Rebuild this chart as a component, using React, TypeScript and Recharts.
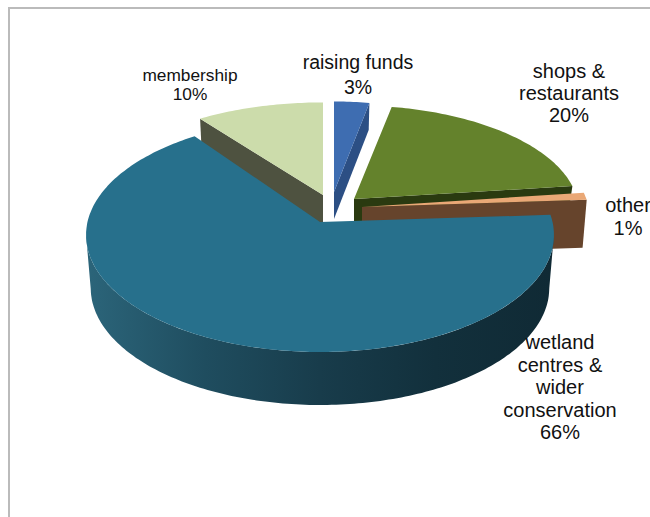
import React from "react";
import { PieChart, Pie } from "recharts";

const names = ["membership", "raising funds", "shops & restaurants", "other", "wetland centres & wider conservation"];
const shares = [10, 3, 20, 1, 66];

const data = names.map((name, i) => ({ name, value: shares[i] }));

const labelLines: Record<string, string[]> = {
  membership: ["membership"],
  "raising funds": ["raising funds"],
  "shops & restaurants": ["shops &", "restaurants"],
  other: ["other"],
  "wetland centres & wider conservation": ["wetland", "centres &", "wider", "conservation"],
};

// 3d look of each slice: shift from the pie centre, squash, wall depth and colours
const looks: Record<string, any> = {
  membership: { dx: 3, dy: -27, sx: 0.98, sy: 0.89, depth: 45, top: "#ccdcab", wall: "#4e5240", cut: "start" },
  "raising funds": { dx: 14, dy: -30, sx: 0.9, sy: 0.87, depth: 27, top: "#3e6db1", wall: "#2c4f84", cut: "end" },
  "shops & restaurants": { dx: 34, dy: -23, sx: 0.96, sy: 0.9, depth: 27, top: "#64822c", wall: "#2a3a10", cut: "end" },
  other: { dx: 42, dy: -15, sx: 0.975, sy: 1, depth: 48, top: "#eaa876", wall: "#66442c", cut: "end" },
  "wetland centres & wider conservation": { dx: 0, dy: 0, sx: 1, sy: 1, depth: 53, top: "#27708c", wall: "url(#sideShade)", cut: "arc" },
};

const labelSpots: Record<string, any> = {
  membership: { x: 190, y: 81, size: 17.3, lead: 19 },
  "raising funds": { x: 358, y: 69, size: 19.5, lead: 25 },
  "shops & restaurants": { x: 569, y: 78, size: 20, lead: 22 },
  other: { x: 628, y: 212, size: 20, lead: 23 },
  "wetland centres & wider conservation": { x: 560, y: 349, size: 20, lead: 22.5 },
};

const PERSPECTIVE = 0.111;
const SQUASH = 0.497;
// angle where the tilted rim is widest, the side wall stops there
const WIDEST = (Math.acos(-PERSPECTIVE) * 180) / Math.PI;

function project(deg: number, cx: number, cy: number, rx: number, ry: number) {
  const t = (deg * Math.PI) / 180;
  const u = Math.sin(t);
  const v = Math.cos(t);
  const w = 1 + PERSPECTIVE * v;
  return { x: cx + (rx * u) / w, y: cy - (ry * v) / w };
}

function toPath(pts: { x: number; y: number }[]) {
  return pts.map((p, i) => `${i ? "L" : "M"}${p.x.toFixed(1)} ${p.y.toFixed(1)}`).join(" ") + " Z";
}

function Slice3D(props: any) {
  const { cx, cy, outerRadius, startAngle, endAngle, name } = props;
  const look = looks[name];
  const ax = cx + look.dx;
  const ay = cy + look.dy;
  const rx = outerRadius * look.sx;
  const ry = outerRadius * SQUASH * look.sy;
  // recharts angles run counter-clockwise from 3 o'clock, here clockwise from 12
  const from = 90 - startAngle;
  const to = 90 - endAngle;

  const rim: { x: number; y: number }[] = [];
  const steps = Math.max(4, Math.ceil(to - from));
  for (let i = 0; i <= steps; i++) {
    rim.push(project(from + ((to - from) * i) / steps, ax, ay, rx, ry));
  }
  const apex = { x: ax, y: ay };

  let wall = "";
  if (look.cut === "arc") {
    const upper: { x: number; y: number }[] = [];
    const lower: { x: number; y: number }[] = [];
    for (let deg = WIDEST; deg <= 360 - WIDEST; deg += 1) {
      upper.push(project(deg, ax, ay, rx, ry));
      lower.unshift(project(deg, ax, ay + look.depth, rx * 0.98, ry));
    }
    wall = toPath([...upper, ...lower]);
  } else {
    const edge = look.cut === "start" ? rim[0] : rim[rim.length - 1];
    wall = toPath([
      apex,
      edge,
      { x: edge.x - (edge.x - ax) * 0.018, y: edge.y + look.depth },
      { x: ax, y: ay + look.depth },
    ]);
  }

  return (
    <g>
      <path d={wall} fill={look.wall} />
      <path d={toPath([apex, ...rim])} fill={look.top} />
    </g>
  );
}

function renderLabel(props: any) {
  const { name, value } = props;
  const spot = labelSpots[name];
  const lines = [...labelLines[name], `${value}%`];
  return (
    <text
      key={name}
      textAnchor="middle"
      fontFamily="'Liberation Sans', Arial, sans-serif"
      fontSize={spot.size}
      fill="#111"
    >
      {lines.map((line, i) => (
        <tspan key={line} x={spot.x} y={spot.y + i * spot.lead}>
          {line}
        </tspan>
      ))}
    </text>
  );
}

export default function App() {
  return (
    <div style={{ position: "absolute", left: 0, top: 0, width: 650, height: 517, overflow: "hidden", background: "#fff" }}>
      <div
        style={{
          position: "absolute",
          left: 8,
          top: 7,
          width: 650,
          height: 520,
          borderLeft: "2px solid #bbb",
          borderTop: "2px solid #bbb",
        }}
      />
      <PieChart
        width={650}
        height={517}
        margin={{ top: 0, right: 0, bottom: 0, left: 0 }}
        style={{ position: "absolute", left: 0, top: 0 }}
      >
        <defs>
          <linearGradient id="sideShade" gradientUnits="userSpaceOnUse" x1="90" y1="0" x2="550" y2="0">
            <stop offset="0" stopColor="#2b6479" />
            <stop offset="0.25" stopColor="#1f4d5f" />
            <stop offset="0.5" stopColor="#183c4b" />
            <stop offset="0.75" stopColor="#12303c" />
            <stop offset="1" stopColor="#102a35" />
          </linearGradient>
        </defs>
        <Pie
          data={data}
          dataKey="value"
          nameKey="name"
          cx={320}
          cy={222}
          outerRadius={232.5}
          startAngle={126}
          endAngle={-234}
          stroke="none"
          shape={Slice3D}
          label={renderLabel}
          labelLine={false}
          isAnimationActive={false}
        />
      </PieChart>
    </div>
  );
}
